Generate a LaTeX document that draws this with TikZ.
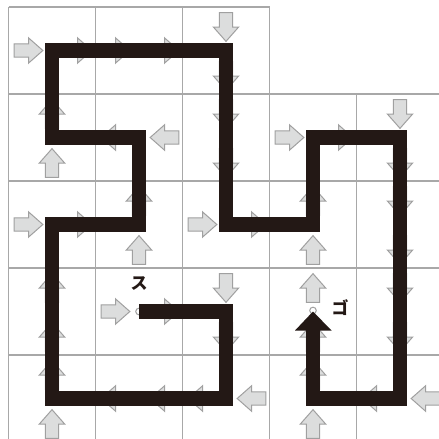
\documentclass[tikz,border=0pt]{standalone}
\usepackage{fontspec}
\newfontfamily\cjk{Noto Sans CJK JP}
\definecolor{gridgray}{HTML}{A8A8A8}
\definecolor{arrfill}{HTML}{DCDDDD}
\definecolor{arrline}{HTML}{A0A0A0}
\definecolor{pathblack}{HTML}{231815}
\tikzset{
  gridline/.style={draw=gridgray, line width=1.4pt},
  garrowsty/.style={fill=arrfill, draw=arrline, line width=1pt, line join=miter},
  garrow/.pic={\path[garrowsty] (-14.35,-6.65) -- (0,-6.65) -- (0,-12.65) -- (14.35,0) -- (0,12.65) -- (0,6.65) -- (-14.35,6.65) -- cycle;},
  route/.style={draw=pathblack, line width=14.5pt, line join=miter, line cap=butt},
  endcircle/.style={draw=arrline, fill=white, line width=1pt},
  lab/.style={font=\cjk\bfseries\fontsize{17}{17}\selectfont, text=pathblack, inner sep=0pt}
}
\begin{document}
\begin{tikzpicture}[x=1pt,y=-1pt]
\useasboundingbox (0,0) rectangle (439,439);
\clip (0,0) rectangle (439,439);
\fill[white] (0,0) rectangle (439,439);
% grid
\foreach \x in {8.5,95.5,182.5,269.5} \draw[gridline] (\x,7) -- (\x,445);
\draw[gridline] (356.5,94) -- (356.5,445);
\draw[gridline] (8.5,7) -- (269.5,7);
\foreach \y in {94,181,268,355} \draw[gridline] (8.5,\y) -- (445,\y);
% gray arrows (0 right, 90 up, 180 left, 270 down)
\foreach \x/\y/\a in {
  28.5/50.5/0, 77.5/50.5/0, 115.5/50.5/0, 164.5/50.5/0, 226/27/270, 226/76/270,
  52/114/90, 52/163/90, 115.5/137.5/180, 164.5/137.5/180, 226/114/270, 226/163/270,
  289.5/137.5/0, 338.5/137.5/0, 400/114/270, 400/163/270,
  28.5/224.5/0, 77.5/224.5/0, 139/201/90, 139/250/90, 202.5/224.5/0, 251.5/224.5/0,
  313/201/90, 313/250/90, 400/201/270, 400/250/270,
  52/288/90, 52/337/90, 115.5/311.5/0, 164.5/311.5/0, 226/288/270, 226/337/270,
  313/288/90, 313/337/90, 400/288/270, 400/337/270,
  52/375/90, 52/424/90, 115.5/398.5/180, 164.5/398.5/180, 202.5/398.5/180, 251.5/398.5/180,
  313/375/90, 313/424/90, 376.5/398.5/180, 425.5/398.5/180}
  \pic[rotate=\a] at (\x,\y) {garrow};
% start and goal markers
\coordinate (S) at (139,311.5);
\coordinate (G) at (313,310.5);
\path[endcircle] (S) circle (3.3);
\path[endcircle] (G) circle (3.3);
% route
\coordinate (H) at (313,330);
\draw[route] (S) -- (226,311.5) -- (226,398.5) -- (52,398.5) -- (52,224.5) -- (139,224.5)
  -- (139,137.5) -- (52,137.5) -- (52,50.5) -- (226,50.5) -- (226,224.5) -- (313,224.5)
  -- (313,137.5) -- (400,137.5) -- (400,398.5) -- (313,398.5) -- (313,329);
\fill[pathblack] (295,330.5) -- (331.5,330.5) -- (313,311.5) -- cycle;
% labels
\node[lab] (ls) at (139,284) {ス};
\node[lab] (lg) at (340,308) {ゴ};
\end{tikzpicture}
\end{document}
